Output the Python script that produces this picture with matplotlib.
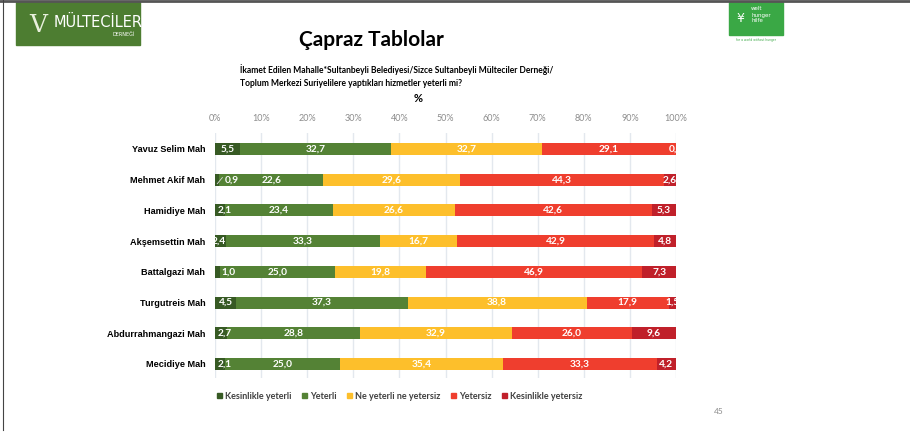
import matplotlib.pyplot as plt
import matplotlib.patches as mpatches
import numpy as np

# data (percent)
neighbourhoods = ['Yavuz Selim Mah', 'Mehmet Akif Mah', 'Hamidiye Mah', 'Akşemsettin Mah',
                  'Battalgazi Mah', 'Turgutreis Mah', 'Abdurrahmangazi Mah', 'Mecidiye Mah']
answers = ['Kesinlikle yeterli', 'Yeterli', 'Ne yeterli ne yetersiz', 'Yetersiz', 'Kesinlikle yetersiz']
kesinlikle_yeterli = [5.5, 0.9, 2.1, 2.4, 1.0, 4.5, 2.7, 2.1]
yeterli = [32.7, 22.6, 23.4, 33.3, 25.0, 37.3, 28.8, 25.0]
ne_ne = [32.7, 29.6, 26.6, 16.7, 19.8, 38.8, 32.9, 35.4]
yetersiz = [29.1, 44.3, 42.6, 42.9, 46.9, 17.9, 26.0, 33.3]
kesinlikle_yetersiz = [0.0, 2.6, 5.3, 4.8, 7.3, 1.5, 9.6, 4.2]
ticks = [0, 10, 20, 30, 40, 50, 60, 70, 80, 90, 100]

colors = ['#375a24', '#548235', '#fdbf2b', '#ef3e2e', '#c0202a']
# where the labels of the first (tiny) segment sit, in %
first_label_x = [2.75, 3.7, 2.0, 0.9, 3.0, 2.4, 2.2, 2.0]

W, H = 910, 433
fig = plt.figure(figsize=(9.1, 4.33), dpi=100)


def fx(px):
    return px / W


def fy(py):
    return 1 - py / H


ax = fig.add_axes([fx(215), fy(378), fx(676) - fx(215), fy(133) - fy(378)])

series = [kesinlikle_yeterli, yeterli, ne_ne, yetersiz, kesinlikle_yetersiz]
y = np.arange(len(neighbourhoods))
left = np.zeros(len(neighbourhoods))
for k, vals in enumerate(series):
    vals = np.array(vals)
    ax.barh(y, vals, left=left, height=0.39, color=colors[k], linewidth=0,
            label=answers[k], zorder=3)
    for i, v in enumerate(vals):
        xc = left[i] + v / 2
        if k == 0:
            xc = first_label_x[i]
        txt = f'{v:.1f}'.replace('.', ',')
        ax.text(xc, y[i], txt, ha='center', va='center', color='white', fontsize=7.3,
                fontweight='bold', family='Lato', zorder=5, clip_on=True)
    left += vals

# leader line for the 0,9 label
ax.plot([0.5, 1.6], [1.13, 0.93], color='#dddddd', lw=0.6, zorder=4)

ax.set_xlim(0, 100)
ax.set_ylim(7.456, -0.52)
ax.set_yticks(y)
ax.set_yticklabels(neighbourhoods, fontsize=6.6, fontweight='bold', family='Liberation Sans')
ax.set_xticks(ticks)
ax.set_xticklabels([f'{t}%' for t in ticks], fontsize=6.5, color='#8c8c8c', family='Lato')
ax.xaxis.tick_top()
ax.tick_params(axis='x', length=0, pad=7)
ax.tick_params(axis='y', length=0, pad=7)
ax.grid(axis='x', color='#e3e8ee', lw=1, zorder=0)
for s in ax.spines.values():
    s.set_visible(False)

handles = [mpatches.Patch(color=c) for c in colors]
ax.legend(handles, answers, loc='center left', bbox_to_anchor=(-0.014, -0.074), ncol=5,
          frameon=False, handlelength=0.55, handleheight=0.55, handletextpad=0.35,
          columnspacing=1.15, prop={'family': 'Lato', 'weight': 'bold', 'size': 6.5},
          labelcolor='#404040')

# headings
fig.text(fx(371), fy(40), 'Çapraz Tablolar', ha='center', va='center', fontsize=15,
         fontweight='bold', family='Lato')
fig.text(fx(240), fy(70), 'İkamet Edilen Mahalle*Sultanbeyli Belediyesi/Sizce Sultanbeyli Mülteciler Derneği/',
         ha='left', va='center', fontsize=6.15, fontweight='bold', family='Lato')
fig.text(fx(240), fy(84), 'Toplum Merkezi Suriyelilere yaptıkları hizmetler yeterli mi?',
         ha='left', va='center', fontsize=6.15, fontweight='bold', family='Lato')
fig.text(fx(418), fy(98), '%', ha='center', va='center', fontsize=8, fontweight='bold', family='Lato')
fig.text(fx(719), fy(412), '45', ha='center', va='center', fontsize=6, color='#8c8c8c', family='Lato')

# logos (rough stand-ins)
fig.patches.append(mpatches.Rectangle((fx(16), fy(45)), fx(140) - fx(16), fy(2) - fy(45),
                                      transform=fig.transFigure, color='#4d7d31', zorder=1))
fig.text(fx(98), fy(22), 'MÜLTECİLER', ha='center', va='center', fontsize=10.5, color='white',
         family='Liberation Sans Narrow', zorder=2)
fig.text(fx(135), fy(35), 'DERNEĞİ', ha='right', va='center', fontsize=3.5, color='white', zorder=2)
fig.text(fx(38), fy(26), 'V', ha='center', va='center', fontsize=18, color='#e8f0dc',
         family='DejaVu Serif', zorder=2)

fig.patches.append(mpatches.Rectangle((fx(729), fy(35)), fx(783) - fx(729), fy(2) - fy(35),
                                      transform=fig.transFigure, color='#3aa845', zorder=1))
for j, word in enumerate(['welt', 'hunger', 'hilfe']):
    fig.text(fx(751), fy(9 + 6 * j), word, ha='left', va='center', fontsize=4, color='white', zorder=2)
fig.text(fx(740), fy(19), '¥', ha='center', va='center', fontsize=9, color='white', zorder=2)
fig.text(fx(756), fy(40), 'for a world without hunger', ha='center', va='center', fontsize=2.2,
         color='#3aa845')

# slide border
fig.add_artist(plt.Line2D([0, 1], [fy(1), fy(1)], transform=fig.transFigure, color='#555555', lw=2))
fig.add_artist(plt.Line2D([fx(3), fx(3)], [fy(0), fy(430)], transform=fig.transFigure,
                          color='#444444', lw=0.8))

fig.savefig('out.png', dpi=100)
